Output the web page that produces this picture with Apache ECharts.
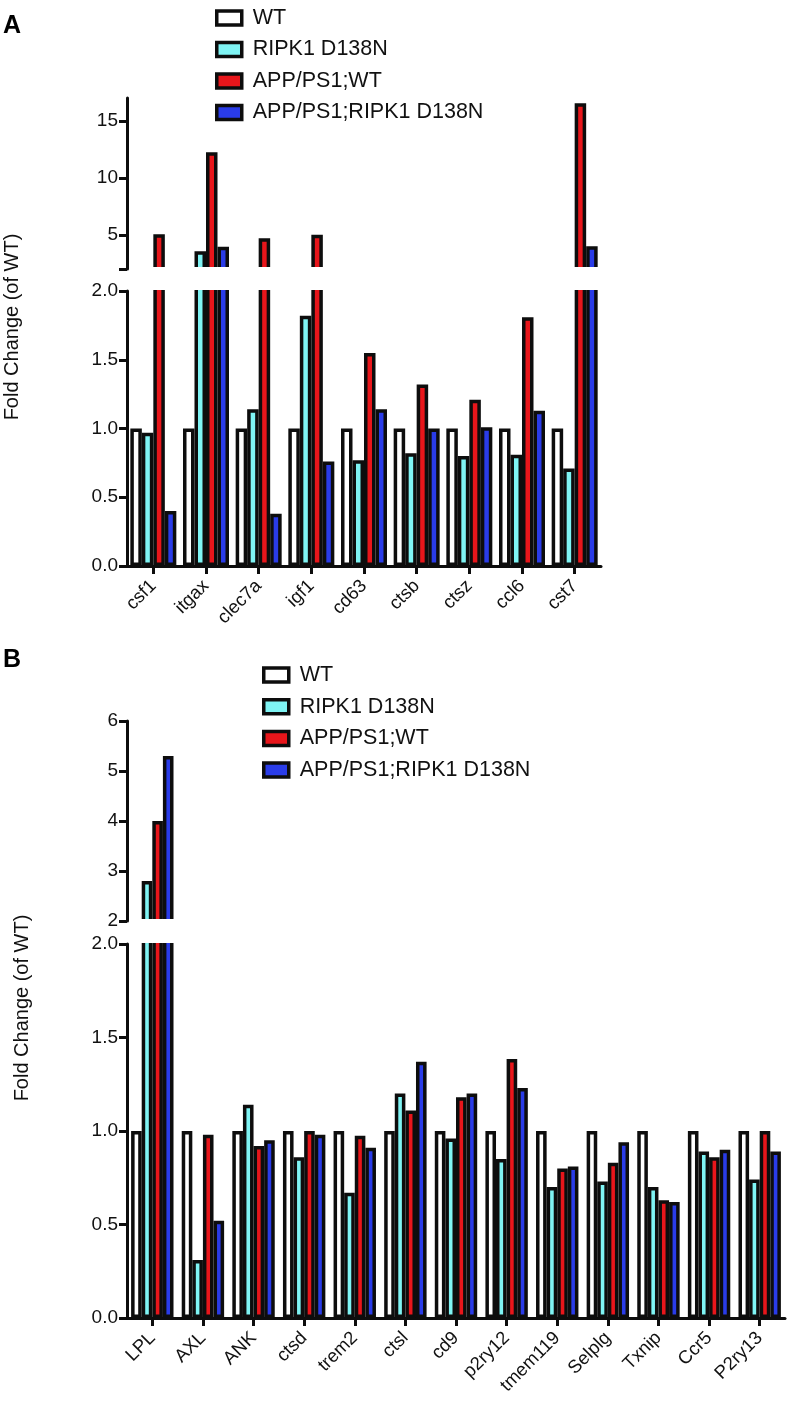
<!DOCTYPE html>
<html><head><meta charset="utf-8">
<script src="https://cdn.jsdelivr.net/npm/echarts@6/dist/echarts.min.js"></script>
<style>html,body{margin:0;padding:0;background:#fff}#c{width:793px;height:1407px}</style>
</head><body><div id="c"></div>
<script>
// ---------- data ----------
const seriesNames = ['WT', 'RIPK1 D138N', 'APP/PS1;WT', 'APP/PS1;RIPK1 D138N'];

const catsA = ['csf1', 'itgax', 'clec7a', 'igf1', 'cd63', 'ctsb', 'ctsz', 'ccl6', 'cst7'];
const wtA = [1, 1, 1, 1, 1, 1, 1, 1, 1];
const ripkA = [0.97, 3.55, 1.14, 1.82, 0.77, 0.82, 0.80, 0.81, 0.71];
const appA = [5.05, 12.25, 4.7, 5.0, 1.55, 1.32, 1.21, 1.81, 16.55];
const appRipkA = [0.40, 3.95, 0.38, 0.76, 1.14, 1.0, 1.01, 1.13, 4.0];

const catsB = ['LPL', 'AXL', 'ANK', 'ctsd', 'trem2', 'ctsl', 'cd9', 'p2ry12', 'tmem119', 'Selplg', 'Txnip', 'Ccr5', 'P2ry13'];
const wtB = [1, 1, 1, 1, 1, 1, 1, 1, 1, 1, 1, 1, 1];
const ripkB = [2.8, 0.31, 1.14, 0.86, 0.67, 1.20, 0.96, 0.85, 0.70, 0.73, 0.70, 0.89, 0.74];
const appB = [4.0, 0.98, 0.92, 1.0, 0.975, 1.11, 1.18, 1.385, 0.80, 0.83, 0.63, 0.86, 1.0];
const appRipkB = [5.3, 0.52, 0.95, 0.98, 0.91, 1.37, 1.20, 1.23, 0.81, 0.94, 0.62, 0.90, 0.89];

const upperTicksA = [2, 5, 10, 15];
const upperLabelsA = [5, 10, 15];
const breakValue = 2;

// ---------- style / layout ----------
const colors = ['#ffffff', '#7ff4f4', '#e8161b', '#2a3ce8'];
const FONT = "'Liberation Sans', Arial, Helvetica, sans-serif";
const INK = '#0d0d0d';
const A = { left: 127, width: 474, upTop: 98, upBot: 269, loTop: 291, loBot: 566, barW: 11.5 };
const B = { left: 127, width: 658, upTop: 721, upBot: 921, loTop: 944, loBot: 1318, barW: 10.6 };
const BORDER = 3.5;

const chart = echarts.init(document.getElementById('c'), null, { renderer: 'canvas' });

function grid(p, upper) {
  const top = upper ? p.upTop : p.loTop;
  const bot = upper ? p.upBot : p.loBot;
  return { left: p.left, width: p.width, top: top, height: bot - top, outerBoundsMode: 'none', containLabel: false };
}
const grids = [grid(A, true), grid(A, false), grid(B, true), grid(B, false)];

function xAxis(gi, cats, visible) {
  return {
    type: 'category', gridIndex: gi, data: cats, show: visible,
    axisLine: { show: true, lineStyle: { color: INK, width: 3 } },
    axisTick: { show: true, alignWithLabel: true, length: 8, lineStyle: { color: INK, width: 3 } },
    axisLabel: { rotate: 45, fontSize: 18.5, fontFamily: FONT, color: '#111', margin: 17 },
    splitLine: { show: false }
  };
}
const xAxes = [xAxis(0, catsA, false), xAxis(1, catsA, true), xAxis(2, catsB, false), xAxis(3, catsB, true)];

const yBase = {
  type: 'value',
  axisLine: { show: true, lineStyle: { color: INK, width: 3 } },
  axisTick: { show: true, length: 8, lineStyle: { color: INK, width: 3 } },
  splitLine: { show: false },
  axisLabel: { fontSize: 19, fontFamily: FONT, color: '#111', margin: 9 }
};
const yAxes = [
  Object.assign({}, yBase, {
    gridIndex: 0, min: breakValue, max: 17,
    axisTick: Object.assign({}, yBase.axisTick, { customValues: upperTicksA }),
    axisLabel: Object.assign({}, yBase.axisLabel, { customValues: upperLabelsA })
  }),
  Object.assign({}, yBase, {
    gridIndex: 1, min: 0, max: breakValue, interval: 0.5,
    axisLabel: Object.assign({}, yBase.axisLabel, { formatter: v => v.toFixed(1) })
  }),
  Object.assign({}, yBase, { gridIndex: 2, min: breakValue, max: 6, interval: 1 }),
  Object.assign({}, yBase, {
    gridIndex: 3, min: 0, max: breakValue, interval: 0.5,
    axisLabel: Object.assign({}, yBase.axisLabel, { formatter: v => v.toFixed(1) })
  })
];

const upperPart = arr => arr.map(v => (v > breakValue ? v : '-'));
const lowerPart = arr => arr.map(v => Math.min(v, breakValue + 0.06));

function bars(dataSets, xi, yi, bw, part, clip) {
  return dataSets.map((d, i) => ({
    type: 'bar', name: seriesNames[i], xAxisIndex: xi, yAxisIndex: yi,
    data: part(d), barWidth: bw, barGap: '0%', clip: clip,
    itemStyle: { color: colors[i], borderColor: INK, borderWidth: BORDER },
    emphasis: { disabled: true }, animation: false
  }));
}
const setsA = [wtA, ripkA, appA, appRipkA];
const setsB = [wtB, ripkB, appB, appRipkB];
const series = [].concat(
  bars(setsA, 0, 0, A.barW, upperPart, true),
  bars(setsA, 1, 1, A.barW, lowerPart, false),
  bars(setsB, 2, 2, B.barW, upperPart, true),
  bars(setsB, 3, 3, B.barW, lowerPart, false)
);

function legend(left, top, gap) {
  return {
    left: left, top: top, orient: 'vertical', padding: 0, icon: 'rect',
    itemWidth: 25, itemHeight: 14, itemGap: gap, selectedMode: false,
    itemStyle: { borderColor: INK, borderWidth: 3.5 },
    textStyle: { fontSize: 21.5, lineHeight: 24, fontFamily: FONT, color: '#111', padding: [0, 0, 0, 6] },
    data: seriesNames
  };
}

// white band hiding the axis break between the two segments of each panel
function breakMask(p) {
  return {
    type: 'rect', z: 100, silent: true,
    shape: { x: p.left + 2, y: p.upBot - 2, width: p.width + 10, height: (p.loTop - 1) - (p.upBot - 2) },
    style: { fill: '#ffffff' }
  };
}
function yTitle(x, y) {
  return {
    type: 'text', x: x, y: y, rotation: Math.PI / 2, z: 10,
    style: { text: 'Fold Change (of WT)', font: '20px ' + FONT, fill: '#111', align: 'center', verticalAlign: 'middle' }
  };
}
function panelLabel(t, x, y) {
  return {
    type: 'text', x: x, y: y, z: 10,
    style: { text: t, font: 'bold 25px ' + FONT, fill: '#000', align: 'left', verticalAlign: 'middle' }
  };
}

chart.setOption({
  backgroundColor: '#ffffff',
  animation: false,
  grid: grids,
  xAxis: xAxes,
  yAxis: yAxes,
  legend: [legend(215, 6, 7.5), legend(262, 663, 7.7)],
  series: series,
  graphic: [
    breakMask(A), breakMask(B),
    yTitle(12, 327), yTitle(22, 1008),
    panelLabel('A', 3, 26), panelLabel('B', 3, 660)
  ]
});
</script>
</body></html>
